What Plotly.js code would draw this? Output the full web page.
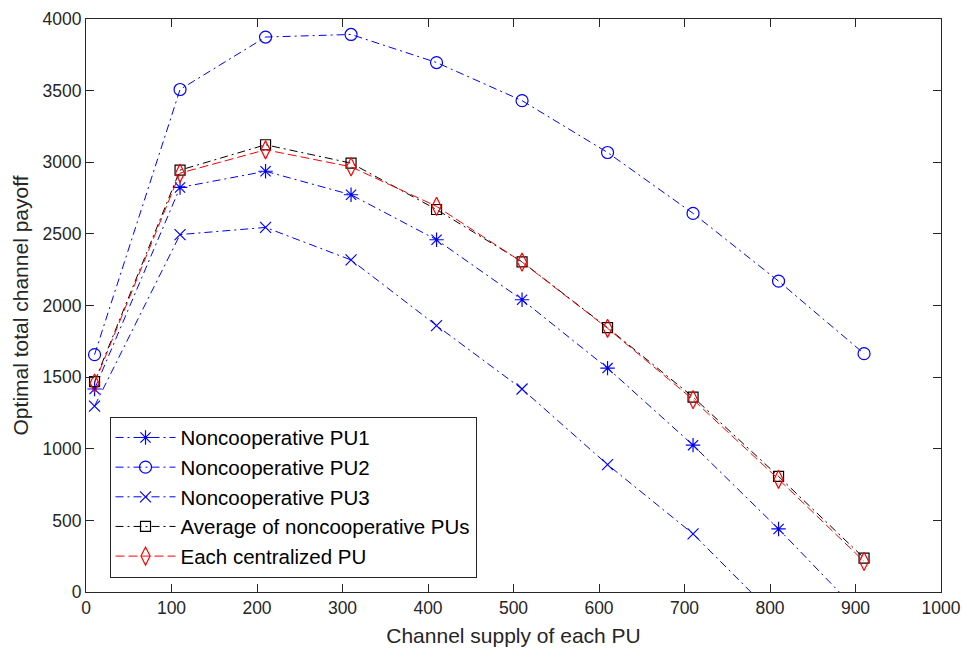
<!DOCTYPE html>
<html>
<head>
<meta charset="utf-8">
<script src="https://cdn.plot.ly/plotly-3.0.1.min.js"></script>
<style>html,body{margin:0;padding:0;background:#fff;}#chart{width:966px;height:656px;}</style>
</head>
<body>
<div id="chart"></div>
<script>
const supply = [10, 110, 210, 310, 410, 510, 610, 710, 810, 910];
const pu1 = [1417, 2824, 2937, 2773, 2459, 2040, 1563, 1025, 440, -180];
const pu2 = [1657, 3508, 3874, 3892, 3696, 3430, 3068, 2643, 2170, 1664];
const pu3 = [1298, 2495, 2545, 2318, 1860, 1417, 889, 406, -195, -775];
const avgPU = [1468, 2945, 3122, 2994, 2670, 2305, 1845, 1361, 807, 237];
const centralPU = [1458, 2924, 3087, 2968, 2692, 2303, 1841, 1343, 787, 214];
const names = ["Noncooperative PU1", "Noncooperative PU2", "Noncooperative PU3",
               "Average of noncooperative PUs", "Each centralized PU"];

const dashdot = "8px,4px,2px,4px";
function tr(y, name, color, dash, symbol, size) {
  return {
    x: supply, y: y, name: name, type: "scatter", mode: "lines+markers",
    line: {color: color, width: 1, dash: dash},
    marker: {symbol: symbol, size: size, color: color, line: {color: color, width: 1.2}},
    cliponaxis: true
  };
}
const data = [
  tr(pu1, names[0], "#0000FF", dashdot, "asterisk-open", 12),
  tr(pu2, names[1], "#0000FF", dashdot, "circle-open", 12),
  tr(pu3, names[2], "#0000FF", dashdot, "x-thin-open", 11),
  tr(avgPU, names[3], "#000000", dashdot, "square-open", 10),
  tr(centralPU, names[4], "#FF0000", "9px,4px", "diamond-tall-open", 13)
];

const axisCommon = {
  showline: true, linecolor: "#262626", linewidth: 1, mirror: "ticks",
  ticks: "inside", ticklen: 8, tickwidth: 1, tickcolor: "#262626",
  showgrid: false, zeroline: false,
  tickfont: {family: "Liberation Sans, Arial, sans-serif", size: 17.5, color: "#262626"}
};
const layout = {
  width: 966, height: 656,
  margin: {l: 85.5, r: 24.5, t: 19, b: 64, pad: 0},
  paper_bgcolor: "#fff", plot_bgcolor: "#fff",
  font: {family: "Liberation Sans, Arial, sans-serif", color: "#262626"},
  showlegend: true,
  xaxis: Object.assign({}, axisCommon, {
    range: [0, 1000], tickvals: [0,100,200,300,400,500,600,700,800,900,1000],
    title: {text: "Channel supply of each PU", font: {size: 21, color: "#262626"}, standoff: 11}
  }),
  yaxis: Object.assign({}, axisCommon, {
    range: [0, 4000], tickvals: [0,500,1000,1500,2000,2500,3000,3500,4000],
    title: {text: "Optimal total channel payoff", font: {size: 21, color: "#262626"}, standoff: 8}
  }),
  legend: {
    x: 0.0275, y: 0.025, xanchor: "left", yanchor: "bottom",
    bgcolor: "#fff", bordercolor: "#262626", borderwidth: 1,
    font: {size: 20.5, color: "#000"}, itemwidth: 60, tracegroupgap: 0
  }
};
Plotly.newPlot("chart", data, layout, {displayModeBar: false, staticPlot: true});
</script>
</body>
</html>
